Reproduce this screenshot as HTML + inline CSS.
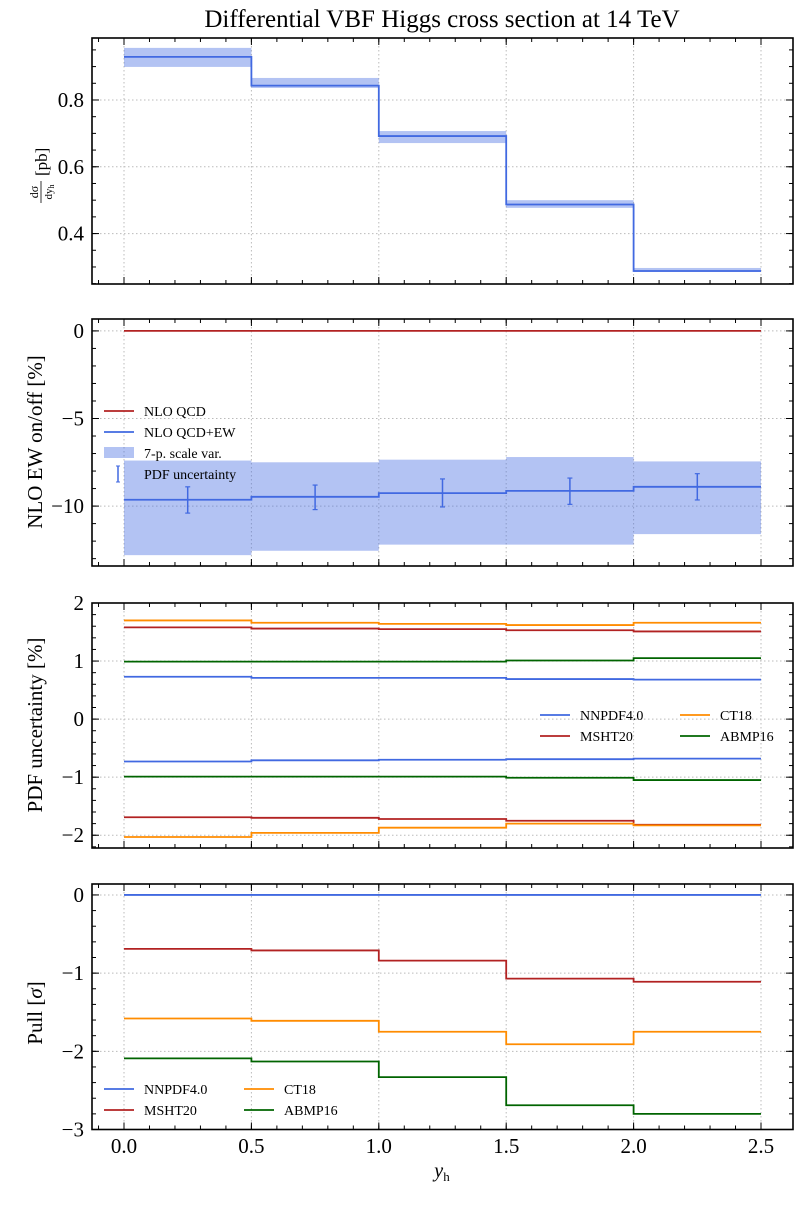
<!DOCTYPE html>
<html><head><meta charset="utf-8"><style>
body{margin:0;background:#fff}
svg text{font-family:"Liberation Serif","DejaVu Serif",serif;fill:#000}
</style></head><body>
<svg id="fig" width="800" height="1200" xmlns="http://www.w3.org/2000/svg"></svg>
<script>
const binEdges=[0,0.5,1.0,1.5,2.0,2.5];
const xTicks=[0,0.5,1.0,1.5,2.0,2.5];
const xTickLabels=["0.0","0.5","1.0","1.5","2.0","2.5"];
// panel 1
const xsCentral=[0.929,0.843,0.692,0.487,0.288];
const xsLow=[0.899,0.836,0.671,0.477,0.285];
const xsHigh=[0.956,0.866,0.707,0.500,0.297];
const p1Ticks=[0.4,0.6,0.8];
// panel 2
const qcdRef=[0,0,0,0,0];
const ewCentral=[-9.64,-9.47,-9.26,-9.13,-8.9];
const ewScaleHigh=[-7.4,-7.5,-7.35,-7.2,-7.45];
const ewScaleLow=[-12.8,-12.55,-12.2,-12.2,-11.6];
const ewPdfHigh=[-8.9,-8.8,-8.45,-8.4,-8.15];
const ewPdfLow=[-10.4,-10.2,-10.05,-9.9,-9.65];
const p2Ticks=[-10,-5,0];
// panel 3
const nnpdfUp=[0.73,0.71,0.71,0.69,0.68];
const nnpdfDn=[-0.73,-0.71,-0.70,-0.69,-0.68];
const abmpUp=[0.99,0.99,0.99,1.01,1.05];
const abmpDn=[-0.99,-0.99,-0.99,-1.01,-1.05];
const mshtUp=[1.58,1.56,1.55,1.53,1.51];
const mshtDn=[-1.69,-1.70,-1.72,-1.75,-1.82];
const ct18Up=[1.70,1.66,1.64,1.62,1.66];
const ct18Dn=[-2.03,-1.96,-1.87,-1.80,-1.83];
const p3Ticks=[-2,-1,0,1,2];
// panel 4
const pullNnpdf=[0,0,0,0,0];
const pullMsht=[-0.69,-0.71,-0.84,-1.07,-1.11];
const pullCt18=[-1.58,-1.61,-1.75,-1.91,-1.75];
const pullAbmp=[-2.09,-2.13,-2.33,-2.69,-2.80];
const p4Ticks=[-3,-2,-1,0];

const BLUE="#4169e1",RED="#b22222",ORANGE="#ff8c00",GREEN="#006400",BAND="rgba(65,105,225,0.4)";
const svg=document.getElementById('fig');
const NS="http://www.w3.org/2000/svg";
function mk(tag,attrs,parent){const e=document.createElementNS(NS,tag);for(const k in attrs)e.setAttribute(k,attrs[k]);(parent||svg).appendChild(e);return e;}
const L=92,R=793;
const X0=124,XS=(761-124)/2.5;
const xS=v=>X0+v*XS;

function panel(name,top,bot,ymin,ymax,ticks,labels,minorStep){
  const g=mk('g',{});
  
  
  const yS=v=>bot-(v-ymin)/(ymax-ymin)*(bot-top);
  xTicks.forEach(t=>{const l=mk('line',{x1:xS(t),x2:xS(t),y1:top,y2:bot,stroke:'#bbb','stroke-width':1,'stroke-dasharray':'1.5,2.5'},g);});
  ticks.forEach(t=>{const l=mk('line',{x1:L,x2:R,y1:yS(t),y2:yS(t),stroke:'#bbb','stroke-width':1,'stroke-dasharray':'1.5,2.5'},g);});
  return {g,yS,top,bot,ymin,ymax,ticks,labels,minorStep};
}
function finish(p){
  const {g,yS,top,bot,ymin,ymax,ticks,labels,minorStep}=p;
  const ax=mk('g',{},g);
  
  
  mk('rect',{x:L,y:top,width:R-L,height:bot-top,fill:'none',stroke:'#000','stroke-width':1.6},ax);
  xTicks.forEach(t=>{mk('line',{x1:xS(t),x2:xS(t),y1:bot,y2:bot-7,stroke:'#000'},ax);mk('line',{x1:xS(t),x2:xS(t),y1:top,y2:top+7,stroke:'#000'},ax);});
  for(let v=-0.1;v<=2.6;v+=0.1){const x=xS(v);if(x<L||x>R)continue;mk('line',{x1:x,x2:x,y1:bot,y2:bot-4,stroke:'#000'},ax);mk('line',{x1:x,x2:x,y1:top,y2:top+4,stroke:'#000'},ax);}
  ticks.forEach((t,i)=>{const y=yS(t);mk('line',{x1:L,x2:L+7,y1:y,y2:y,stroke:'#000'},ax);mk('line',{x1:R,x2:R-7,y1:y,y2:y,stroke:'#000'},ax);
    const tx=mk('text',{x:L-8,y:y+7,'text-anchor':'end','font-size':21},ax);tx.textContent=labels[i];
    });
  const s=Math.ceil(ymin/minorStep);
  for(let k=s;k*minorStep<=ymax+1e-9;k++){const y=yS(k*minorStep);mk('line',{x1:L,x2:L+4,y1:y,y2:y,stroke:'#000'},ax);mk('line',{x1:R,x2:R-4,y1:y,y2:y,stroke:'#000'},ax);}
}
function band(p,lo,hi,nm){
  lo.forEach((v,i)=>{const r=mk('rect',{x:xS(binEdges[i]),width:xS(binEdges[i+1])-xS(binEdges[i]),y:p.yS(hi[i]),height:p.yS(lo[i])-p.yS(hi[i]),fill:BAND},p.g);
    });
}
function step(p,vals,color,nm){
  let d='';vals.forEach((v,i)=>{d+=(i?'L':'M')+xS(binEdges[i])+','+p.yS(v)+'L'+xS(binEdges[i+1])+','+p.yS(v);});
  const e=mk('path',{d,fill:'none',stroke:color,'stroke-width':1.8},p.g);
  
}
function legend(p,x,y,items,cols,colW,rowH){
  const lg=mk('g',{},p.g);
  
  
  items.forEach((it,i)=>{const c=i%cols,r=Math.floor(i/cols);const lx=x+c*colW,ly=y+r*rowH;
    const en=mk('g',{},lg);
    if(it.type==='line')mk('line',{x1:lx,x2:lx+30,y1:ly,y2:ly,stroke:it.c,'stroke-width':1.8},en);
    else if(it.type==='band')mk('rect',{x:lx,y:ly-6,width:30,height:11,fill:BAND},en);
    else{mk('line',{x1:lx+14,x2:lx+14,y1:ly-8,y2:ly+8,stroke:BLUE,'stroke-width':1.5},en);mk('line',{x1:lx+12,x2:lx+16,y1:ly-8,y2:ly-8,stroke:BLUE},en);mk('line',{x1:lx+12,x2:lx+16,y1:ly+8,y2:ly+8,stroke:BLUE},en);}
    const t=mk('text',{x:lx+40,y:ly+5,'font-size':14},en);t.textContent=it.t;});
}

const ti=mk('text',{x:442,y:27,'text-anchor':'middle','font-size':25});ti.textContent='Differential VBF Higgs cross section at 14 TeV';


// Panel 1
const p1=panel('cross-section-panel',38,284,0.249,0.9856,p1Ticks,['0.4','0.6','0.8'],0.05);
band(p1,xsLow,xsHigh,'scale-band');
step(p1,xsCentral,BLUE,'cross-section-line');
finish(p1);
const yl1=mk('g',{transform:'translate(41,163) rotate(-90)'});


mk('line',{x1:-40,x2:-18,y1:0,y2:0,stroke:'#000','stroke-width':0.8},yl1);
const n1=mk('text',{x:-29,y:-3,'text-anchor':'middle','font-size':12},yl1);n1.textContent='dσ';
const d1=mk('text',{x:-29,y:11,'text-anchor':'middle','font-size':11},yl1);d1.innerHTML='dy<tspan font-size="8" dy="2">h</tspan>';
const u1=mk('text',{x:-13,y:6,'font-size':17},yl1);u1.textContent='[pb]';

// Panel 2
const p2=panel('ew-correction-panel',319,566,-13.42,0.68,p2Ticks,['−10','−5','0'],1);
band(p2,ewScaleLow,ewScaleHigh,'scale-band');
step(p2,qcdRef,RED,'nlo-qcd-line');
step(p2,ewCentral,BLUE,'nlo-qcd-ew-line');
ewCentral.forEach((v,i)=>{const xc=xS((binEdges[i]+binEdges[i+1])/2);const e=mk('g',{},p2.g);
  
  mk('line',{x1:xc,x2:xc,y1:p2.yS(ewPdfHigh[i]),y2:p2.yS(ewPdfLow[i]),stroke:BLUE,'stroke-width':1.5},e);
  mk('line',{x1:xc-2.5,x2:xc+2.5,y1:p2.yS(ewPdfHigh[i]),y2:p2.yS(ewPdfHigh[i]),stroke:BLUE,'stroke-width':1.2},e);
  mk('line',{x1:xc-2.5,x2:xc+2.5,y1:p2.yS(ewPdfLow[i]),y2:p2.yS(ewPdfLow[i]),stroke:BLUE,'stroke-width':1.2},e);});
legend(p2,104,411,[{type:'line',c:RED,t:'NLO QCD'},{type:'line',c:BLUE,t:'NLO QCD+EW'},{type:'band',t:'7-p. scale var.'},{type:'err',t:'PDF uncertainty'}],1,0,21);
finish(p2);
const yl2=mk('text',{x:0,y:0,'font-size':21,transform:'translate(42,442) rotate(-90)','text-anchor':'middle'});yl2.textContent='NLO EW on/off [%]';


// Panel 3
const p3=panel('pdf-uncertainty-panel',603,848,-2.22,2.0,p3Ticks,['−2','−1','0','1','2'],0.2);
step(p3,nnpdfUp,BLUE,'nnpdf-upper');step(p3,nnpdfDn,BLUE,'nnpdf-lower');
step(p3,abmpUp,GREEN,'abmp-upper');step(p3,abmpDn,GREEN,'abmp-lower');
step(p3,mshtUp,RED,'msht-upper');step(p3,mshtDn,RED,'msht-lower');
step(p3,ct18Up,ORANGE,'ct18-upper');step(p3,ct18Dn,ORANGE,'ct18-lower');
legend(p3,540,715,[{type:'line',c:BLUE,t:'NNPDF4.0'},{type:'line',c:ORANGE,t:'CT18'},{type:'line',c:RED,t:'MSHT20'},{type:'line',c:GREEN,t:'ABMP16'}],2,140,21);
finish(p3);
const yl3=mk('text',{x:0,y:0,'font-size':21,transform:'translate(42,725) rotate(-90)','text-anchor':'middle'});yl3.textContent='PDF uncertainty [%]';


// Panel 4
const p4=panel('pull-panel',884,1129.5,-3,0.14,p4Ticks,['−3','−2','−1','0'],0.2);
step(p4,pullNnpdf,BLUE,'nnpdf-pull');step(p4,pullMsht,RED,'msht-pull');
step(p4,pullCt18,ORANGE,'ct18-pull');step(p4,pullAbmp,GREEN,'abmp-pull');
legend(p4,104,1089,[{type:'line',c:BLUE,t:'NNPDF4.0'},{type:'line',c:ORANGE,t:'CT18'},{type:'line',c:RED,t:'MSHT20'},{type:'line',c:GREEN,t:'ABMP16'}],2,140,21);
finish(p4);
const yl4=mk('text',{x:0,y:0,'font-size':21,transform:'translate(42,1013) rotate(-90)','text-anchor':'middle'});yl4.innerHTML='Pull [<tspan font-style="italic">σ</tspan>]';


xTicks.forEach((t,i)=>{const tx=mk('text',{x:xS(t),y:1153,'text-anchor':'middle','font-size':21});tx.textContent=xTickLabels[i];
  });
const xl=mk('text',{x:442,y:1177,'text-anchor':'middle','font-size':20});xl.innerHTML='<tspan font-style="italic">y</tspan><tspan font-size="13" dy="4">h</tspan>';

</script>
</body></html>
